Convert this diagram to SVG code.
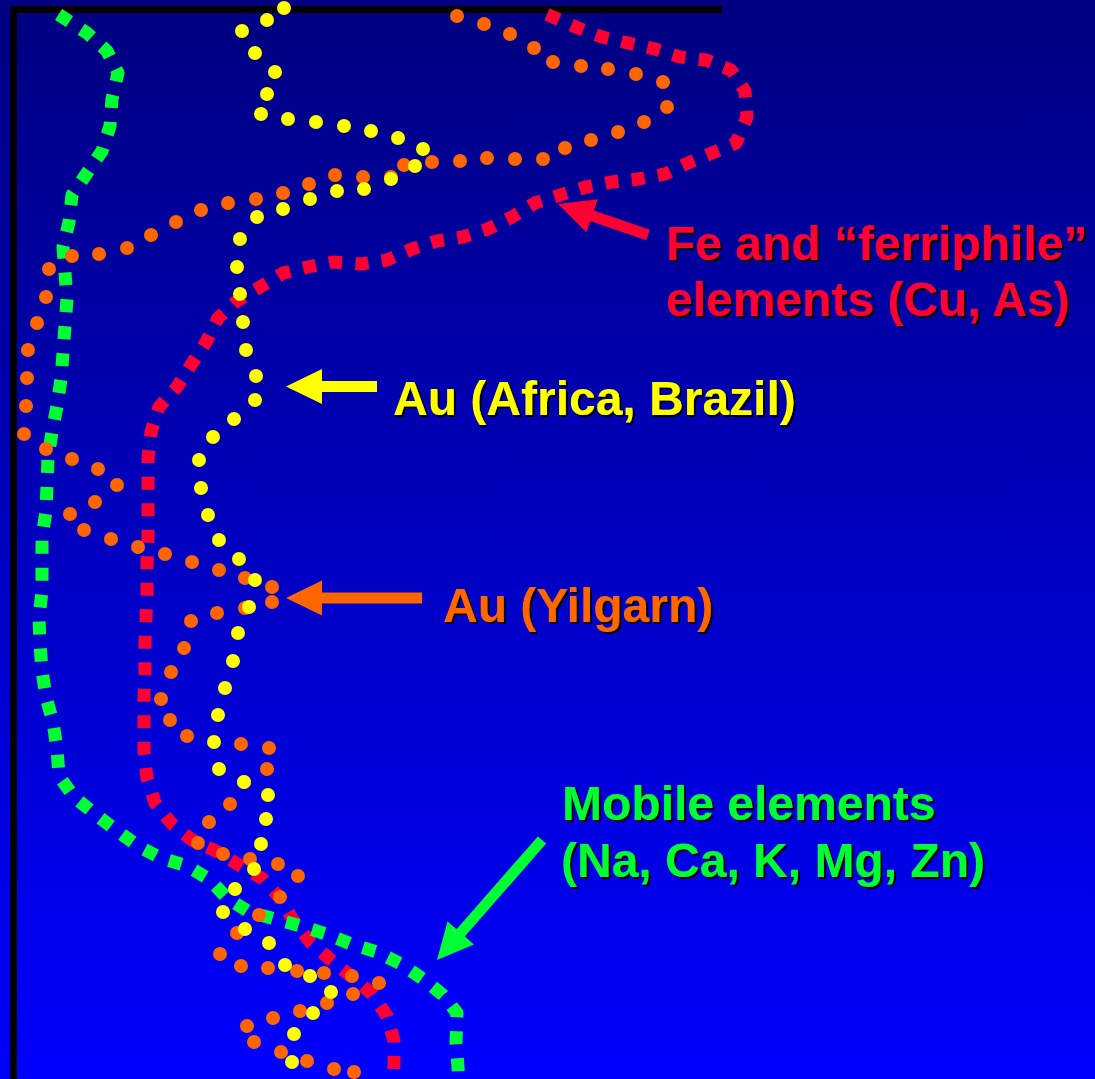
<svg xmlns="http://www.w3.org/2000/svg" width="1095" height="1079" viewBox="0 0 1095 1079">
<defs>
<linearGradient id="bg" x1="0" y1="0" x2="0" y2="1">
<stop offset="0" stop-color="#000080"/>
<stop offset="1" stop-color="#0000FF"/>
</linearGradient>
<filter id="sh" x="-5%" y="-20%" width="110%" height="140%">
<feDropShadow dx="2" dy="2" stdDeviation="0" flood-color="#000" flood-opacity="1"/>
</filter>
</defs>
<style>
.lbl{font-family:"Liberation Sans",Arial,sans-serif;font-weight:bold;font-size:48px;filter:url(#sh)}
.sq{fill:none;stroke-width:13;stroke-dasharray:13 14;stroke-linejoin:round}
.dot{fill:none;stroke-width:14;stroke-linecap:round}
</style>
<rect x="0" y="0" width="1095" height="1079" fill="url(#bg)"/>
<path id="axes" d="M13.5,1079 V9.5 H722" fill="none" stroke="#000" stroke-width="7" stroke-linejoin="round"/>

<g id="connectors">
<path id="red-curve" class="sq" stroke="#FF0033" style="stroke-dasharray:13 13.5" d="M547,14.4 L553,17 578,28 602,37 628,43 655,49 680,57 706,60 731,70 745,91 747,117 736,143 712,153 688,163 665,174 638,179 612,182 586,187 560,195 535,203 512,217 488,229 463,237 437,241 412,249 387,260 361,264 333,262 308,267 283,273 260,287 237,301 218,318 206,342 191,365 177,387 159,407 151,432 148,458 148,485 148,512 148,538 147,565 147,592 146,618 145,645 145,672 144,698 144,725 144,752 147,778 155,803 172,824 192,840 216,851 239,865 263,879 280,898 293,920 311,943 331,960 352,977 372,994 387,1016 394,1041 394,1067 394,1090"/>
<path id="green-curve" class="sq" stroke="#00FF33" d="M58.6,14.5 L64,18 87,33 107,51 118,73 112,99 110,126 102,151 87,173 72,195 69,222 63,247 65,273 67,299 65,326 63,353 61,379 57,406 52,432 48,458 47,485 46,511 42,537 42,564 42,591 39,617 40,644 42,671 46,697 53,722 57,749 59,776 74,797 95,814 116,830 138,846 161,858 187,866 209,879 227,898 249,912 275,919 301,926 326,934 351,944 377,952 401,964 423,979 443,995 457,1013 456,1042 458,1067 459,1090"/>
<path id="orange-dots" class="dot" stroke="#FF6600" d="M457,16h0M484,24h0M510,34h0M534,48h0M553,62h0M581,66h0M608,69h0M636,74h0M663,82h0M667,107h0M644,122h0M618,132h0M591,140h0M565,148h0M543,159h0M515,159h0M487,158h0M460,161h0M432,162h0M404,165h0M391,177h0M363,177h0M335,175h0M309,184h0M283,193h0M256,199h0M228,203h0M201,210h0M176,222h0M151,235h0M127,248h0M99,254h0M72,256h0M49,269h0M46,297h0M37,323h0M28,350h0M27,378h0M26,406h0M24,434h0M46,449h0M72,459h0M98,469h0M117,485h0M95,502h0M70,514h0M84,530h0M111,539h0M138,547h0M165,554h0M192,562h0M219,570h0M245,578h0M272,587h0M272,602h0M245,608h0M217,613h0M191,621h0M184,648h0M171,672h0M161,699h0M170,720h0M187,736h0M241,744h0M269,748h0M267,769h0M244,782h0M230,804h0M209,822h0M198,843h0M223,854h0M250,859h0M278,864h0M298,876h0M280,897h0M259,915h0M237,933h0M220,954h0M241,966h0M268,968h0M297,971h0M324,973h0M352,976h0M379,983h0M353,994h0M327,1003h0M300,1011h0M273,1018h0M247,1026h0M254,1042h0M281,1052h0M307,1061h0M334,1069h0M354,1072h0"/>
<path id="yellow-dots" class="dot" stroke="#FFFF00" d="M284,8h0M267,20h0M242,31h0M255,53h0M275,72h0M267,94h0M261,114h0M288,119h0M316,122h0M344,126h0M371,131h0M398,138h0M423,149h0M415,166h0M391,179h0M364,189h0M337,191h0M310,199h0M283,209h0M257,217h0M240,239h0M237,267h0M240,294h0M243,322h0M246,350h0M256,376h0M255,400h0M234,419h0M213,437h0M199,460h0M201,488h0M208,515h0M219,540h0M239,559h0M255,580h0M249,607h0M238,633h0M233,661h0M225,688h0M218,715h0M214,742h0M219,769h0M244,782h0M268,795h0M266,819h0M261,844h0M254,869h0M235,889h0M223,912h0M245,929h0M269,943h0M285,965h0M310,976h0M331,992h0M313,1013h0M294,1034h0M292,1062h0"/>
</g>

<g id="label-fe">
<polygon fill="#FF0033" points="558,204 597.7,199.2 593.8,210.5 649.8,229.8 646.2,240.2 590.2,220.9 586.3,232.2"/>
<text class="lbl" fill="#FF0033" x="666" y="260">Fe and “ferriphile”</text>
<text class="lbl" fill="#FF0033" x="666" y="316">elements (Cu, As)</text>
</g>
<g id="label-au-africa">
<polygon fill="#FFFF00" points="286,386.5 322,369 322,381 377,381 377,392 322,392 322,404"/>
<text class="lbl" fill="#FFFF00" x="393" y="415">Au (Africa, Brazil)</text>
</g>
<g id="label-au-yilgarn">
<polygon fill="#FF6600" points="286,598 322,580.5 322,592.5 422,592.5 422,603.5 322,603.5 322,615.5"/>
<text class="lbl" fill="#FF6600" x="443" y="622">Au (Yilgarn)</text>
</g>
<g id="label-mobile">
<polygon fill="#00FF33" points="437,960 447.5,921.4 456.6,929.3 537.9,836.4 546.1,843.6 464.8,936.5 473.9,944.4"/>
<text class="lbl" fill="#00FF33" x="562" y="820">Mobile elements</text>
<text class="lbl" fill="#00FF33" x="561" y="877">(Na, Ca, K, Mg, Zn)</text>
</g>
</svg>
